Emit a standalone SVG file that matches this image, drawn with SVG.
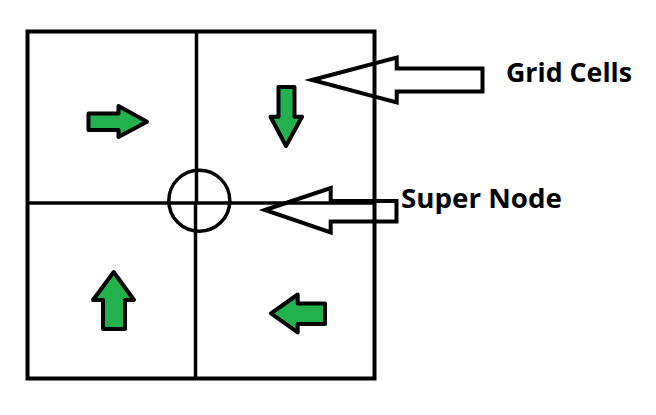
<svg xmlns="http://www.w3.org/2000/svg" width="656" height="415" viewBox="0 0 656 415">
<style>
.grid{fill:none;stroke:#000;stroke-width:4}
.line{stroke:#000;stroke-width:3.5;fill:none}
.green{fill:#22b14c;stroke:#000;stroke-width:4;stroke-linejoin:round}
.callout{fill:none;stroke:#000;stroke-width:4;stroke-linejoin:miter}
.label{font-family:"Open Sans","Liberation Sans",sans-serif;font-weight:700;font-size:27px;fill:#000}
</style>
<rect width="656" height="415" fill="#fff"/>
<g id="grid">
<rect class="grid" x="27.5" y="31.5" width="347" height="347"/>
<line class="line" x1="196.5" y1="31.5" x2="196.5" y2="203"/>
<line class="line" x1="195.5" y1="203" x2="195.5" y2="378.5"/>
<line class="line" x1="27.5" y1="203" x2="374.5" y2="203"/>
</g>
<g id="super-node">
<circle cx="199.3" cy="200.7" r="30.5" fill="none" stroke="#000" stroke-width="3.5"/>
</g>
<g id="cell-arrows">
<polygon id="arrow-right" class="green" points="88.5,113.5 118.5,113.5 118.5,106 147,121.7 118.5,137 118.5,130 88.5,130"/>
<polygon id="arrow-down" class="green" points="278.5,87 294.5,87 294.5,116.7 302,116.7 286,146 270.5,116.7 278.5,116.7"/>
<polygon id="arrow-up" class="green" points="113.7,272 134,300 125,300 125,329 103,329 103,300 93,300"/>
<polygon id="arrow-left" class="green" points="271,313.3 297.7,294.5 297.7,303.5 325,303.5 325,324 297.7,324 297.7,332.5"/>
</g>
<g id="connectors">
<polygon id="callout-grid" class="callout" points="312,80 396.7,57.5 396.7,68.5 482.5,68.5 482.5,91.5 396.7,91.5 396.7,102.5"/>
<polygon id="callout-node" class="callout" points="265,210 330.7,188 330.7,201 396.5,201 396.5,221.5 330.7,221.5 330.7,232.5"/>
</g>
<g id="labels">
<text class="label" x="506" y="81.7" textLength="126" lengthAdjust="spacingAndGlyphs">Grid Cells</text>
<text class="label" x="401" y="208.3" textLength="161" lengthAdjust="spacingAndGlyphs">Super Node</text>
</g>
</svg>
